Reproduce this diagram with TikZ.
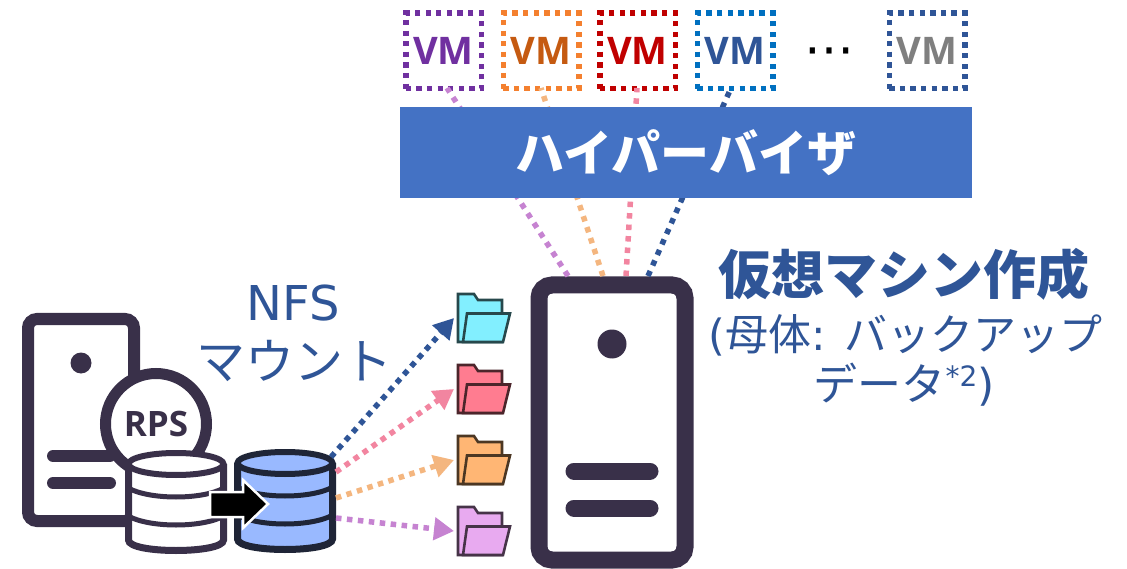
\documentclass[tikz,border=0pt]{standalone}
\usepackage{fontspec}
\usetikzlibrary{arrows.meta}
\setmainfont{DejaVu Sans}
\newfontfamily\jpf{Noto Sans CJK JP}
\newfontfamily\vmf{Open Sans}
\newcommand{\fsz}[1]{\fontsize{#1}{#1}\selectfont}
\definecolor{navy}{HTML}{2F5597}
\definecolor{ink}{HTML}{393049}
\definecolor{ink2}{HTML}{1F2537}
\definecolor{lpurple}{HTML}{C683D1}
\definecolor{lorange}{HTML}{F4B67F}
\definecolor{lpink}{HTML}{F285A0}
\definecolor{vpurple}{HTML}{7030A0}
\definecolor{vorange}{HTML}{F4802F}
\definecolor{vorangetx}{HTML}{C55A11}
\definecolor{vred}{HTML}{C00000}
\definecolor{vblue}{HTML}{0070C0}
\definecolor{vgray}{HTML}{7F7F7F}
\definecolor{hvblue}{HTML}{4472C4}
\definecolor{dbblue}{HTML}{99B9FF}
\definecolor{fc1}{HTML}{82EFFF}
\definecolor{fc2}{HTML}{FF7C90}
\definecolor{fc3}{HTML}{FFB674}
\definecolor{fc4}{HTML}{E8AAF0}
\tikzset{
  vmbox/.style={draw=#1,line width=5.5pt,dash pattern=on 5.3pt off 5.3pt,minimum width=75.5pt,minimum height=75.5pt,inner sep=0pt,fill=white,font=\vmf\bfseries\fsz{38}},
  uplink/.style={draw=#1,line width=5.5pt,dash pattern=on 5.5pt off 6pt},
  mnt/.style={draw=#1,line width=5.5pt,dash pattern=on 5.5pt off 5.5pt},
  headd/.style={-{Triangle[length=20pt,width=22pt,fill=#1,color=#1,sep=0pt]}},
  txtlabel/.style={text=navy,align=center,inner sep=0pt},
  fslot/.style={minimum width=54pt,minimum height=50pt,inner sep=0pt,outer sep=3pt},
  srvbar/.style={line width=#1,line cap=round,draw=ink},
  pics/folder/.style={code={
    \draw[draw=#1!30!black,fill=#1,line width=2.6pt,line join=miter] (1,1)--(17,1)--(21,7)--(45,7)--(45,49)--(1,49)--cycle;
    \draw[draw=#1!30!black,fill=#1,line width=2.6pt,line join=miter] (10,20.5)--(53,20.5)--(46,49)--(6,49)--cycle;
  }},
  pics/dbcyl/.style n args={3}{code={
    \path[fill=#1] (3.5,14) -- (3.5,92) .. controls (3.5,104) and (98.5,104) .. (98.5,92) -- (98.5,14) -- cycle;
    \draw[draw=#2,line width=5pt] (3,38) .. controls (25,50) and (77,50) .. (99,38);
    \draw[draw=#2,line width=5pt] (3,66) .. controls (25,78) and (77,78) .. (99,66);
    \draw[draw=#2,line width=7pt] (3.5,14) -- (3.5,90) .. controls (3.5,104) and (98.5,104) .. (98.5,90) -- (98.5,14);
    \draw[draw=#2,line width=6pt,fill=#3] (51,14) ellipse [x radius=47.5pt,y radius=11pt];
  }}
}
\begin{document}
\begin{tikzpicture}[x=1pt,y=-1pt]
\useasboundingbox (0,0) rectangle (1127,569);
\fill[white] (0,0) rectangle (1127,569);

% VM boxes
\node[vmbox=vpurple,text=vpurple] (vm1) at (443.5,51) {VM};
\node[vmbox=vorange,text=vorangetx] (vm2) at (541,51) {VM};
\node[vmbox=vred,text=vred] (vm3) at (637.5,51) {VM};
\node[vmbox=vblue,text=navy] (vm4) at (735,51) {VM};
\node[vmbox=navy,text=vgray] (vm5) at (927,51) {VM};
\node[inner sep=0pt,font=\fsz{50}] (dots) at (829,57) {⋯};

% server
\node[draw=ink,fill=white,line width=17pt,rounded corners=13pt,minimum width=146pt,minimum height=275pt,inner sep=0pt] (srv) at (612,422.5) {};
\coordinate (su1) at (568,276);
\coordinate (su2) at (603,276);
\coordinate (su3) at (626,276);
\coordinate (su4) at (648,276);
\coordinate (vd1) at (447,88);
\coordinate (vd2) at (541,88);
\coordinate (vd3) at (637,88);
\coordinate (vd4) at (731,88);
\draw[uplink=lpurple] (su1) -- (vd1);
\draw[uplink=lorange] (su2) -- (vd2);
\draw[uplink=lpink] (su3) -- (vd3);
\draw[uplink=navy] (su4) -- (vd4);
\fill[ink] (612,344) circle (14.5pt);
\draw[srvbar=17pt] (574,471) -- (650,471);
\draw[srvbar=17pt] (574,508) -- (650,508);

% hypervisor
\node[fill=hvblue,minimum width=572pt,minimum height=91pt,inner sep=0pt,text=white,font=\jpf\bfseries\fsz{49}] (hv) at (686,152.5) {\raisebox{2pt}{ハイパーバイザ}};

% small server
\node[draw=ink,fill=white,line width=12pt,rounded corners=9pt,minimum width=106pt,minimum height=202pt,inner sep=0pt] (srv2) at (81,420) {};
\fill[ink] (81,363) circle (10.5pt);
\draw[srvbar=12pt] (53,456) -- (110,456);
\draw[srvbar=12pt] (53,483) -- (110,483);
\node[circle,draw=ink,fill=white,line width=11pt,minimum size=101pt,inner sep=0pt,text=ink,font=\vmf\bfseries\fsz{35}] (rps) at (156,424) {RPS};

% databases
\pic at (125,450) {dbcyl={white}{ink}{white}};
\pic at (234,449) {dbcyl={dbblue}{ink2}{dbblue}};
\draw[fill=black,draw=white,line width=2.5pt,line join=miter] (210,492)--(243,492)--(243,480)--(268,504)--(243,528)--(243,517)--(210,517)--cycle;

% folders
\node[fslot] (f1) at (484,318) {};
\node[fslot] (f2) at (484,389) {};
\node[fslot] (f3) at (484,460) {};
\node[fslot] (f4) at (484,531) {};
\pic at (457,293) {folder=fc1};
\pic at (457,364) {folder=fc2};
\pic at (457,435) {folder=fc3};
\pic at (457,506) {folder=fc4};

% mount arrows
\coordinate (d1) at (331,457);
\coordinate (d2) at (336,472);
\coordinate (d3) at (336,498);
\coordinate (d4) at (336,518);
\draw[mnt=navy,headd=navy] (d1) -- (f1.west);
\draw[mnt=lpink,headd=lpink] (d2) -- (f2.west);
\draw[mnt=lorange,headd=lorange] (d3) -- (f3.west);
\draw[mnt=lpurple,headd=lpurple] (d4) -- (f4.west);

% labels
\node[txtlabel,font=\fsz{48}] (nfs) at (293.5,303) {NFS};
\node[txtlabel,font=\jpf\fsz{49}] (mt) at (294,361) {マウント};
\node[txtlabel,font=\jpf\bfseries\fsz{53}] (t1) at (904,274) {仮想マシン作成};
\node[txtlabel,font=\fsz{43}] (t2) at (905.5,335) {({\jpf 母体}: {\jpf バックアップ}};
\node[txtlabel,font=\fsz{44}] (t3) at (904,385) {{\jpf データ}\raisebox{14pt}{\fsz{28}*2})};
\end{tikzpicture}
\end{document}
